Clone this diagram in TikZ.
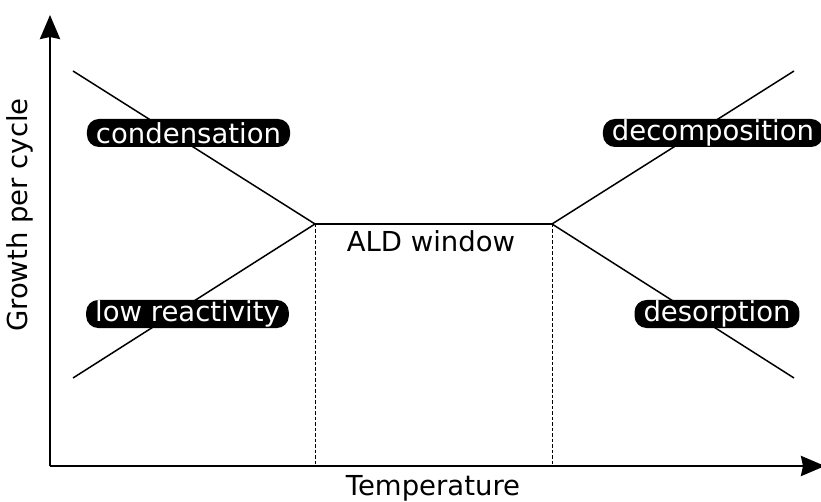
\documentclass[tikz,border=0pt]{standalone}
\usepackage{fontspec}
\setmainfont{DejaVu Sans}
\usetikzlibrary{arrows.meta}
\begin{document}
\begin{tikzpicture}[x=1pt,y=-1pt,
  axis/.style={line width=2.8pt,-{Stealth[length=24pt,width=20pt,inset=2pt]}},
  curve/.style={line width=1.5pt},
  plateau/.style={line width=2.3pt},
  guide/.style={line width=1pt,dash pattern=on 3.5pt off 2pt},
  tag/.style={fill=black,text=white,rounded corners=12pt,inner xsep=9pt,inner ysep=0pt,minimum height=28pt,font=\fontsize{27.5}{33}\selectfont},
  plain/.style={font=\fontsize{27.5}{33}\selectfont,inner sep=0pt}]
\useasboundingbox (0,0) rectangle (821,502);
\coordinate (O) at (50,466);
\coordinate (ytip) at (50,15);
\coordinate (xtip) at (825,466);
\coordinate (L) at (315,224);
\coordinate (R) at (552,224);
\coordinate (Lb) at (315,466);
\coordinate (Rb) at (552,466);
\coordinate (lt) at (73,71);
\coordinate (lb) at (73,378);
\coordinate (rt) at (794,71);
\coordinate (rb) at (794,378);
\draw[guide] (L) -- (Lb);
\draw[guide] (R) -- (Rb);
\draw[curve] (lt) -- (L);
\draw[curve] (lb) -- (L);
\draw[curve] (R) -- (rt);
\draw[curve] (R) -- (rb);
\draw[plateau] (L) -- (R);
\draw[axis] (O) -- (ytip);
\draw[axis] (O) -- (xtip);
\node[tag] (cond) at (188.5,133) {condensation};
\node[tag] (lowr) at (187.5,314) {low reactivity};
\node[tag] (deco) at (713,133) {decomposition};
\node[tag] (deso) at (717,314) {desorption};
\node[plain] (ald) at (431,241) {ALD window};
\node[plain] (temp) at (433,488) {Temperature};
\node[plain,rotate=90] (gpc) at (20,215) {Growth per cycle};
\end{tikzpicture}
\end{document}
